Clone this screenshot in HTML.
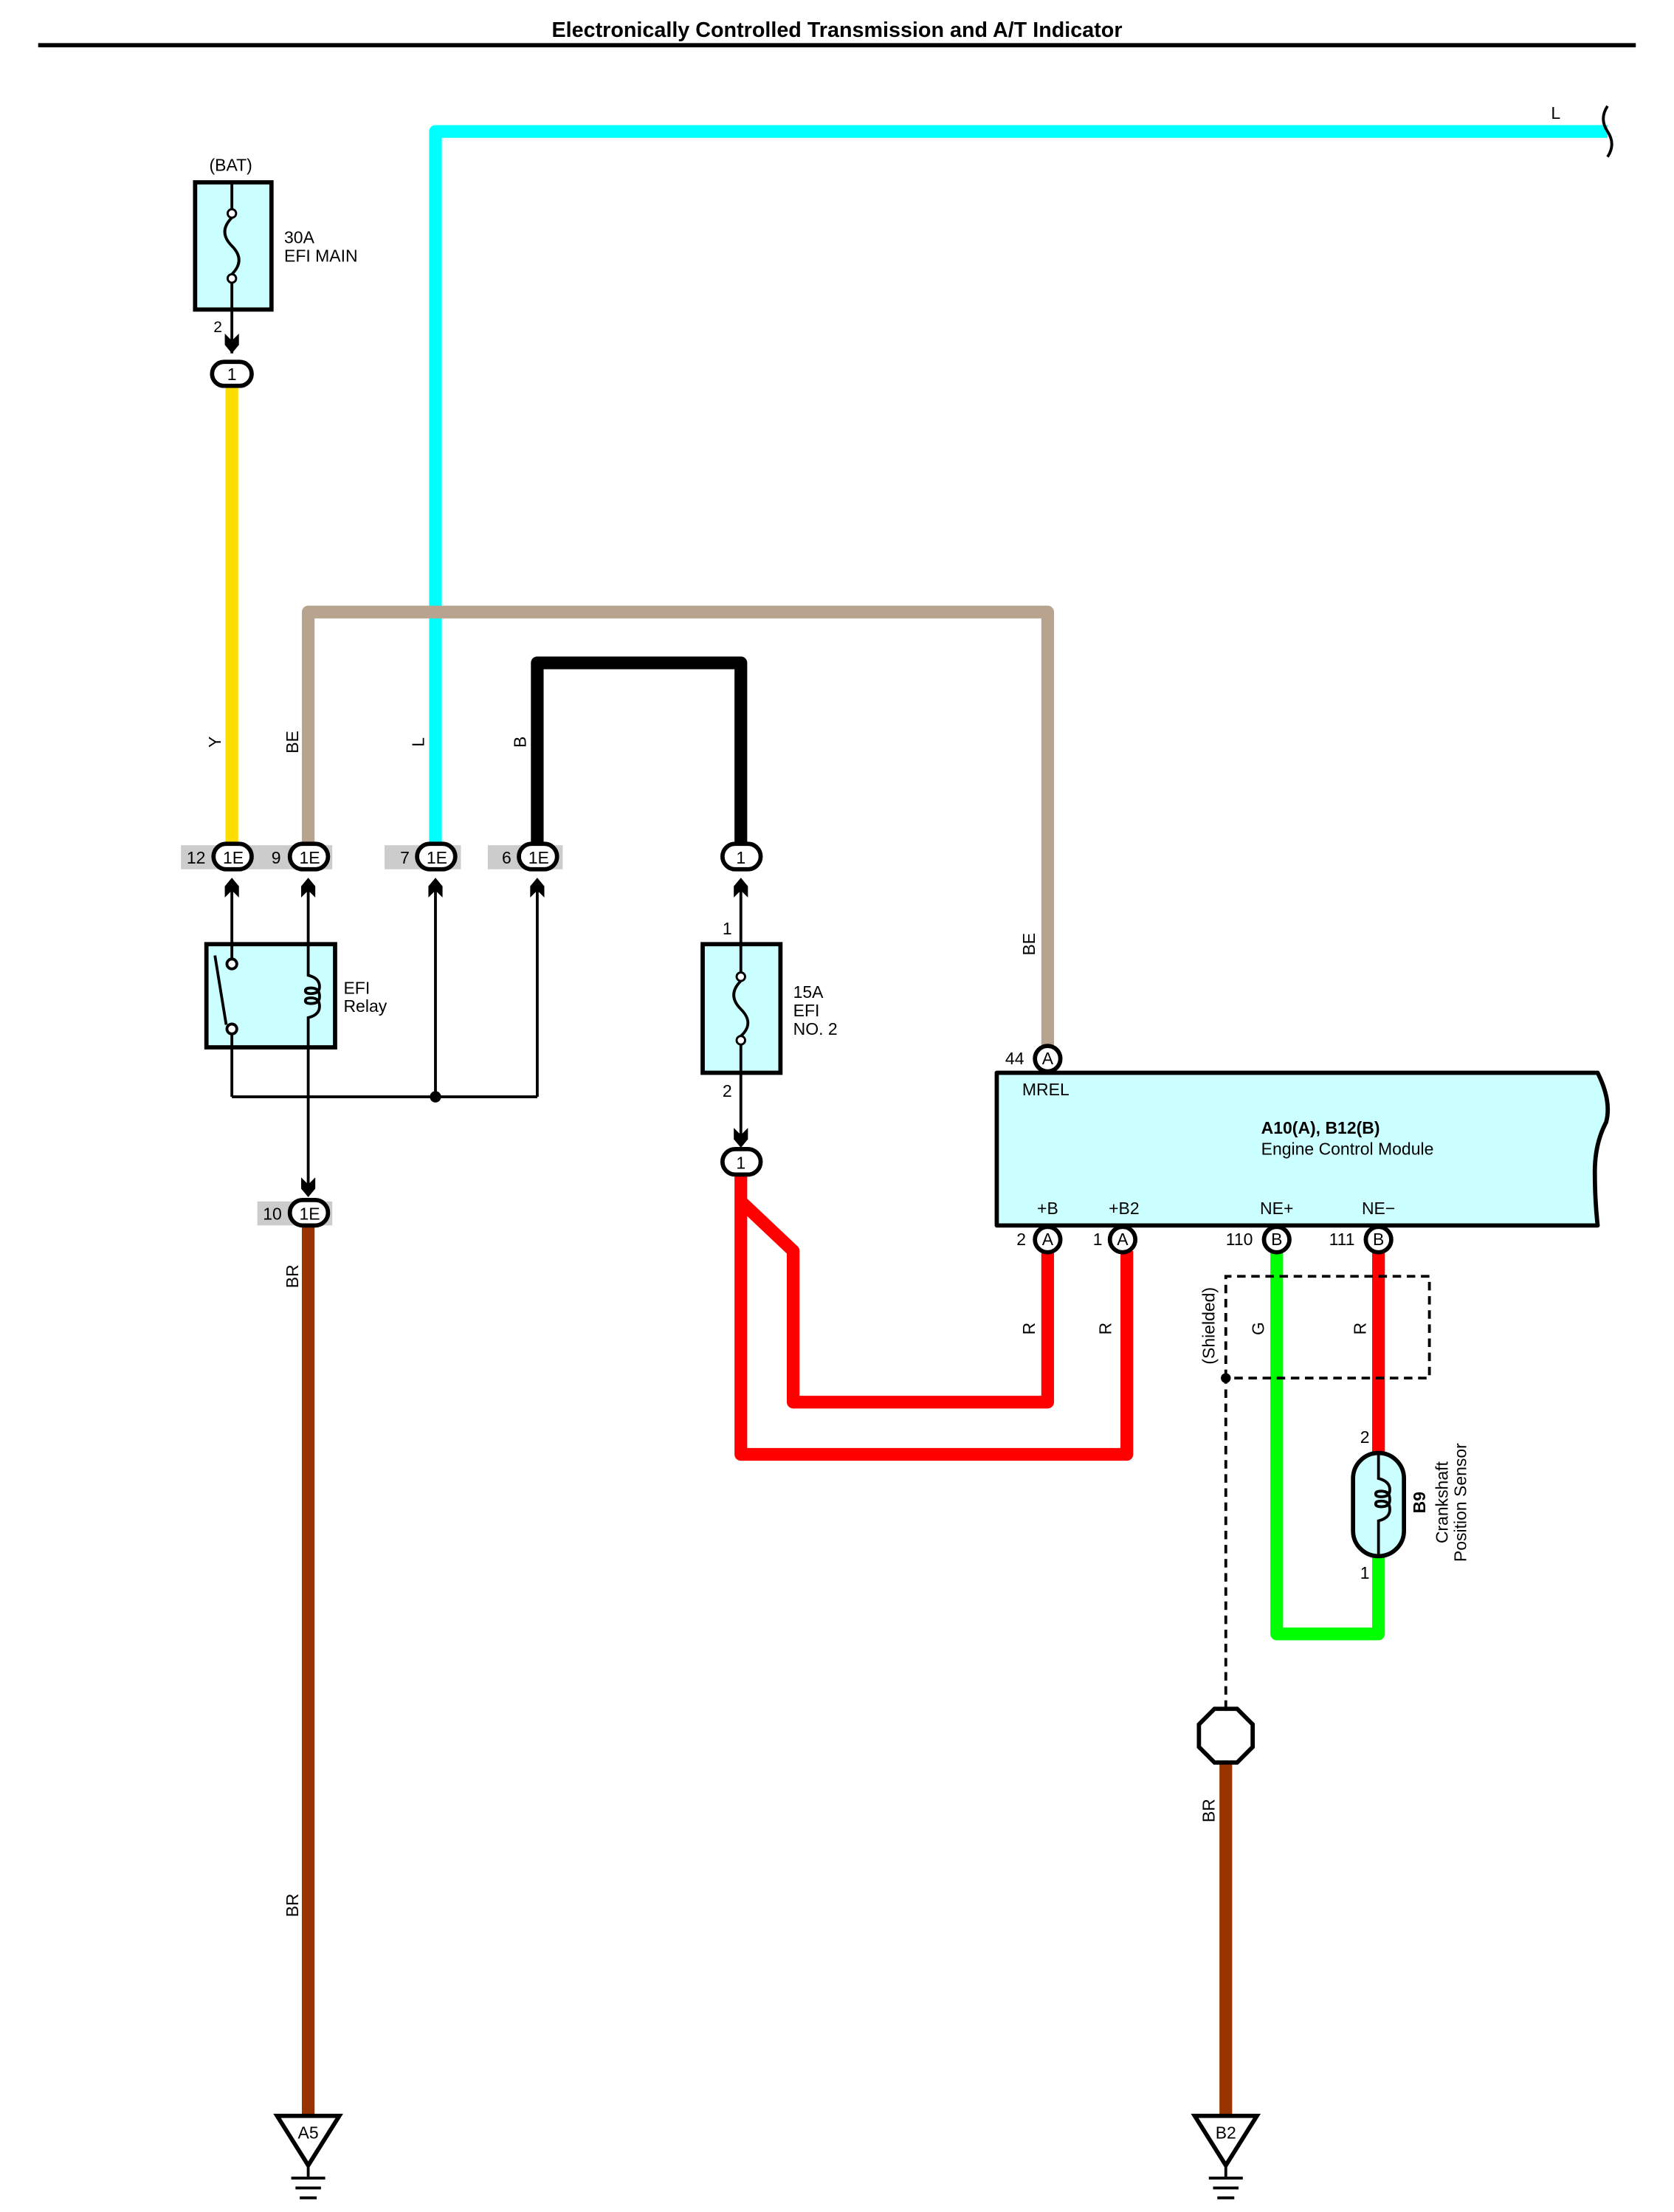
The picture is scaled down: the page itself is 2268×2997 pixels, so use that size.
<!DOCTYPE html>
<html><head><meta charset="utf-8"><style>
html,body{margin:0;padding:0;background:#fff}
svg{display:block}
text{font-family:"Liberation Sans",Arial,sans-serif;fill:#000}
</style></head><body>
<svg width="2268" height="2997" viewBox="0 0 1184 1565" preserveAspectRatio="none" xmlns="http://www.w3.org/2000/svg">
<defs>
<g id="arr"><path d="M-5,10 L-5,2 L0,-4 L5,2 L5,10 L0,5 Z" fill="#000"/></g>
<g id="arrd"><path d="M-5,-10 L-5,-2 L0,4 L5,-2 L5,-10 L0,-5 Z" fill="#000"/></g>
</defs>
<text x="592" y="26" font-size="15" font-weight="bold" text-anchor="middle">Electronically Controlled Transmission and A/T Indicator</text>
<line x1="27" y1="32" x2="1157" y2="32" stroke="#000" stroke-width="3"/>

<!-- grey bands -->
<rect x="128" y="598" width="54" height="17" fill="#ccc"/>
<rect x="182" y="598" width="53" height="17" fill="#ccc"/>
<rect x="272" y="598" width="54" height="17" fill="#ccc"/>
<rect x="345" y="598" width="53" height="17" fill="#ccc"/>
<rect x="182" y="850" width="53" height="17" fill="#ccc"/>

<!-- thick wires -->
<g fill="none" stroke-width="9" stroke-linejoin="round" stroke-linecap="butt">
<path d="M308,600 V93 H1137" stroke="#00ffff"/>
<path d="M164,272 V600" stroke="#ffdd00"/>
<path d="M218,600 V433 H741 V742" stroke="#b8a48e"/>
<path d="M380,600 V469 H524 V600" stroke="#000"/>
<path d="M218,866 V1497" stroke="#993300"/>
<path d="M867,1246 V1497" stroke="#993300"/>
<path d="M524,830 V1029 H797 V885" stroke="#ff0000"/>
<path d="M524,850 L561,885 V992 H741 V885" stroke="#ff0000"/>
<path d="M903,885 V1156 H975 V1100" stroke="#00ff00"/>
<path d="M975,885 V1028" stroke="#ff0000"/>
</g>
<path d="M1137,75 q-6,9 0,18 q6,9 0,18" fill="none" stroke="#000" stroke-width="2"/>
<text x="1097" y="84" font-size="12">L</text>

<!-- fuse 30A -->
<text x="148" y="121" font-size="12">(BAT)</text>
<rect x="138" y="129" width="54" height="90" fill="#ccffff" stroke="#000" stroke-width="3"/>
<line x1="164" y1="129" x2="164" y2="148" stroke="#000" stroke-width="2"/>
<line x1="164" y1="200" x2="164" y2="219" stroke="#000" stroke-width="2"/>
<circle cx="164" cy="151" r="3" fill="#fff" stroke="#000" stroke-width="1.5"/>
<circle cx="164" cy="197" r="3" fill="#fff" stroke="#000" stroke-width="1.5"/>
<path d="M164,154 q-10,10 0,20 q10,10 0,20" fill="none" stroke="#000" stroke-width="2"/>
<text x="201" y="172" font-size="12">30A</text>
<text x="201" y="185" font-size="12">EFI MAIN</text>
<line x1="164" y1="219" x2="164" y2="250" stroke="#000" stroke-width="2"/>
<text x="151" y="235" font-size="11">2</text>
<use href="#arrd" x="164" y="246"/>

<!-- connectors -->
<g stroke="#000" stroke-width="3" fill="#fff">
<rect x="150" y="256" width="28" height="17" rx="8.5"/>
<rect x="151" y="597" width="27" height="18" rx="9"/>
<rect x="205" y="597" width="27" height="18" rx="9"/>
<rect x="295" y="597" width="27" height="18" rx="9"/>
<rect x="367" y="597" width="27" height="18" rx="9"/>
<rect x="511" y="597" width="27" height="18" rx="9"/>
<rect x="511" y="813" width="27" height="18" rx="9"/>
<rect x="205" y="849" width="27" height="18" rx="9"/>
<circle cx="741" cy="749" r="9"/>
<circle cx="741" cy="877" r="9"/>
<circle cx="794" cy="877" r="9"/>
<circle cx="903" cy="877" r="9"/>
<circle cx="975" cy="877" r="9"/>
</g>
<g font-size="12" text-anchor="middle">
<text x="164" y="269">1</text>
<text x="165" y="611">1E</text><text x="219" y="611">1E</text><text x="309" y="611">1E</text><text x="381" y="611">1E</text>
<text x="524" y="611">1</text><text x="524" y="827">1</text><text x="219" y="863">1E</text>
<text x="741" y="753">A</text><text x="741" y="881">A</text><text x="794" y="881">A</text><text x="903" y="881">B</text><text x="975" y="881">B</text>
</g>
<g font-size="12">
<text x="132" y="611">12</text><text x="192" y="611">9</text><text x="283" y="611">7</text><text x="355" y="611">6</text><text x="186" y="863">10</text>
<text x="711" y="753">44</text><text x="719" y="881">2</text><text x="773" y="881">1</text><text x="867" y="881">110</text><text x="940" y="881">111</text>
</g>

<!-- arrows & thin wires -->
<g stroke="#000" stroke-width="2" fill="none">
<line x1="164" y1="625" x2="164" y2="668"/>
<line x1="218" y1="625" x2="218" y2="838"/>
<line x1="308" y1="625" x2="308" y2="776"/>
<line x1="380" y1="625" x2="380" y2="776"/>
<line x1="164" y1="741" x2="164" y2="776"/>
<line x1="164" y1="776" x2="380" y2="776"/>
<line x1="524" y1="625" x2="524" y2="668"/>
<line x1="524" y1="759" x2="524" y2="806"/>
</g>
<use href="#arr" x="164" y="625"/><use href="#arr" x="218" y="625"/><use href="#arr" x="308" y="625"/><use href="#arr" x="380" y="625"/><use href="#arr" x="524" y="625"/>
<use href="#arrd" x="218" y="843"/><use href="#arrd" x="524" y="808"/>
<circle cx="308" cy="776" r="4" fill="#000"/>

<!-- relay -->
<rect x="146" y="668" width="91" height="73" fill="#ccffff" stroke="#000" stroke-width="3"/>
<g stroke="#000" stroke-width="2" fill="none">
<line x1="164" y1="668" x2="164" y2="678"/>
<line x1="164" y1="732" x2="164" y2="741"/>
<circle cx="164" cy="682" r="3.5" fill="#fff"/>
<circle cx="164" cy="728" r="3.5" fill="#fff"/>
<line x1="152" y1="676" x2="160" y2="725"/>
<path d="M218,668 V690 q8,2 8,8 q0,5 -6,5 q-4,0 -4,-2 q0,-2 4,-2 q6,0 6,6 q0,5 -6,5 q-4,0 -4,-2 q0,-2 4,-2 q6,0 6,6 q0,6 -8,8 V741"/>
</g>
<text x="243" y="703" font-size="12">EFI</text><text x="243" y="716" font-size="12">Relay</text>

<!-- fuse 15A -->
<rect x="497" y="668" width="55" height="91" fill="#ccffff" stroke="#000" stroke-width="3"/>
<line x1="524" y1="668" x2="524" y2="688" stroke="#000" stroke-width="2"/>
<line x1="524" y1="738" x2="524" y2="759" stroke="#000" stroke-width="2"/>
<circle cx="524" cy="691" r="3" fill="#fff" stroke="#000" stroke-width="1.5"/>
<circle cx="524" cy="736" r="3" fill="#fff" stroke="#000" stroke-width="1.5"/>
<path d="M524,694 q-10,10 0,20 q10,10 0,19" fill="none" stroke="#000" stroke-width="2"/>
<text x="511" y="661" font-size="12">1</text><text x="511" y="776" font-size="12">2</text>
<text x="561" y="706" font-size="12">15A</text><text x="561" y="719" font-size="12">EFI</text><text x="561" y="732" font-size="12">NO. 2</text>

<!-- rotated wire labels -->
<g font-size="12" text-anchor="middle">
<text transform="translate(156,525) rotate(-90)">Y</text>
<text transform="translate(211,525) rotate(-90)">BE</text>
<text transform="translate(300,525) rotate(-90)">L</text>
<text transform="translate(372,525) rotate(-90)">B</text>
<text transform="translate(732,668) rotate(-90)">BE</text>
<text transform="translate(211,903) rotate(-90)">BR</text>
<text transform="translate(211,1348) rotate(-90)">BR</text>
<text transform="translate(732,940) rotate(-90)">R</text>
<text transform="translate(786,940) rotate(-90)">R</text>
<text transform="translate(894,940) rotate(-90)">G</text>
<text transform="translate(966,940) rotate(-90)">R</text>
<text transform="translate(859,938) rotate(-90)">(Shielded)</text>
<text transform="translate(859,1281) rotate(-90)">BR</text>
</g>

<!-- ECM -->
<path d="M705,759 H1130 q10,20 6,35 q-8,15 -8,35 q0,20 2,38 H705 Z" fill="#ccffff" stroke="#000" stroke-width="3" stroke-linejoin="round"/>
<text x="723" y="775" font-size="12">MREL</text>
<text x="892" y="802" font-size="12" font-weight="bold">A10(A), B12(B)</text>
<text x="892" y="817" font-size="12">Engine Control Module</text>
<g font-size="12" text-anchor="middle">
<text x="741" y="859">+B</text><text x="795" y="859">+B2</text><text x="903" y="859">NE+</text><text x="975" y="859">NE−</text>
</g>

<!-- shield -->
<path d="M867,975 V903 H1011 V975 H867 V1210" fill="none" stroke="#000" stroke-width="2" stroke-dasharray="6,4"/>
<circle cx="867" cy="975" r="3.5" fill="#000"/>
<polygon points="859,1209 875,1209 886,1220 886,1236 875,1247 859,1247 848,1236 848,1220" fill="#fff" stroke="#000" stroke-width="3"/>

<!-- sensor -->
<rect x="957" y="1028" width="36" height="73" rx="18" fill="#ccffff" stroke="#000" stroke-width="3"/>
<path d="M975,1028 V1046 q8,2 8,8 q0,5 -6,5 q-4,0 -4,-2 q0,-2 4,-2 q6,0 6,6 q0,5 -6,5 q-4,0 -4,-2 q0,-2 4,-2 q6,0 6,6 q0,6 -8,8 V1100" fill="none" stroke="#000" stroke-width="2"/>
<text x="962" y="1021" font-size="12">2</text><text x="962" y="1117" font-size="12">1</text>
<g font-size="12" text-anchor="middle">
<text transform="translate(1008,1063) rotate(90) scale(-1,-1)" font-weight="bold">B9</text>
<text transform="translate(1024,1063) rotate(-90)">Crankshaft</text>
<text transform="translate(1037,1063) rotate(-90)">Position Sensor</text>
</g>

<!-- grounds -->
<g stroke="#000" stroke-width="3" fill="#fff">
<polygon points="196,1497 240,1497 218,1532"/>
<polygon points="845,1497 889,1497 867,1532"/>
</g>
<g stroke="#000" stroke-width="2">
<line x1="218" y1="1532" x2="218" y2="1540"/>
<line x1="206" y1="1541" x2="230" y2="1541"/><line x1="209" y1="1548" x2="227" y2="1548"/><line x1="212" y1="1555" x2="224" y2="1555"/>
<line x1="867" y1="1532" x2="867" y2="1540"/>
<line x1="855" y1="1541" x2="879" y2="1541"/><line x1="858" y1="1548" x2="876" y2="1548"/><line x1="861" y1="1555" x2="873" y2="1555"/>
</g>
<text x="218" y="1513" font-size="12" text-anchor="middle">A5</text>
<text x="867" y="1513" font-size="12" text-anchor="middle">B2</text>
</svg>
</body></html>
